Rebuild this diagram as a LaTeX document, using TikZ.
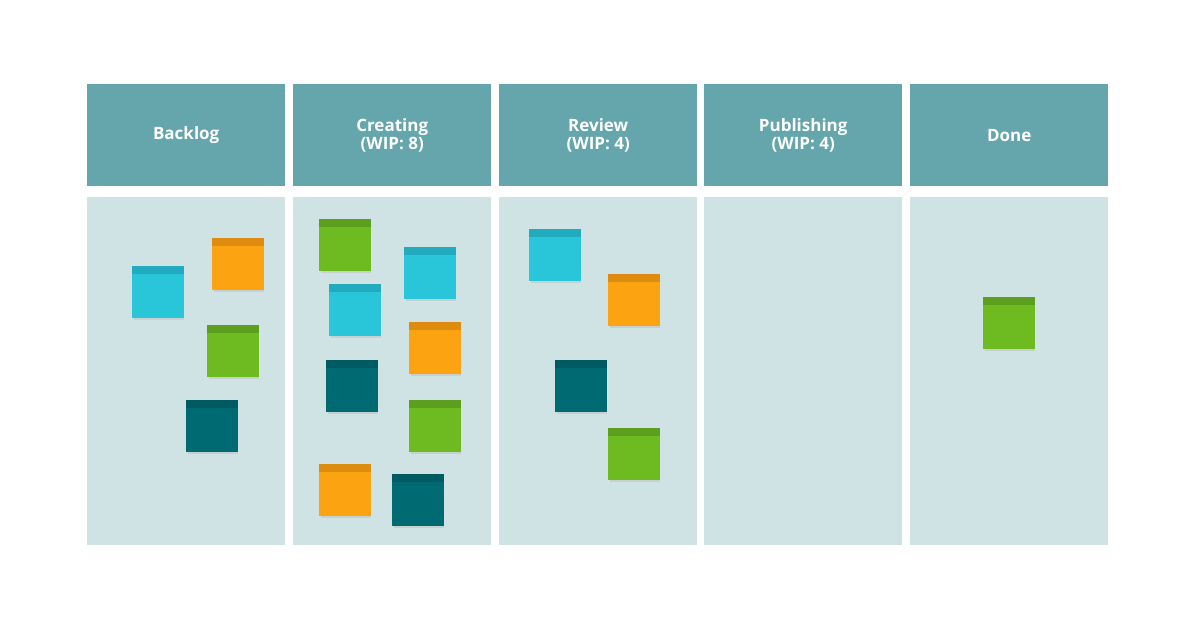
\documentclass[tikz,border=0pt]{standalone}
\usepackage{fontspec}
\setmainfont{Open Sans}
\definecolor{headcol}{HTML}{64A6AB}
\definecolor{bodycol}{HTML}{CFE3E4}
\definecolor{cyanN}{HTML}{29C5D9}\definecolor{cyanT}{HTML}{22ABBE}
\definecolor{orangeN}{HTML}{FCA311}\definecolor{orangeT}{HTML}{DD8C0F}
\definecolor{greenN}{HTML}{6DBB21}\definecolor{greenT}{HTML}{5C9E1E}
\definecolor{tealN}{HTML}{006A72}\definecolor{tealT}{HTML}{005A61}
\tikzset{
  header/.style={fill=headcol, minimum width=198pt, minimum height=102pt, inner sep=0pt,
    text=white, font=\bfseries\fontsize{17pt}{18pt}\selectfont, align=center, anchor=north west},
  lane/.style={fill=bodycol, minimum width=198pt, minimum height=348pt, inner sep=0pt, anchor=north west}
}
\newcommand{\sticky}[3]{% colour, x, y (top left)
  \fill[black!25, opacity=0.5] (#2+2,#3+51) rectangle (#2+52,#3+53.5);
  \fill[#1N] (#2,#3) rectangle (#2+52,#3+52);
  \fill[#1T] (#2,#3) rectangle (#2+52,#3+8);
}
\begin{document}
\begin{tikzpicture}[x=1pt,y=-1pt]
\useasboundingbox (0,0) rectangle (1200,630);
\fill[white] (0,0) rectangle (1200,630);

\node[header] (hBacklog) at (87,84) {Backlog};
\node[header] (hCreating) at (293,84) {Creating\\(WIP: 8)};
\node[header] (hReview) at (499,84) {Review\\(WIP: 4)};
\node[header] (hPublishing) at (704,84) {Publishing\\(WIP: 4)};
\node[header] (hDone) at (910,84) {Done};

\foreach \x/\name in {87/Backlog, 293/Creating, 499/Review, 704/Publishing, 910/Done}
  \node[lane] (l\name) at (\x,197) {};

% backlog
\sticky{cyan}{132}{266}
\sticky{orange}{212}{238}
\sticky{green}{207}{325}
\sticky{teal}{186}{400}
% creating
\sticky{green}{319}{219}
\sticky{cyan}{404}{247}
\sticky{cyan}{329}{284}
\sticky{orange}{409}{322}
\sticky{teal}{326}{360}
\sticky{green}{409}{400}
\sticky{orange}{319}{464}
\sticky{teal}{392}{474}
% review
\sticky{cyan}{529}{229}
\sticky{orange}{608}{274}
\sticky{teal}{555}{360}
\sticky{green}{608}{428}
% done
\sticky{green}{983}{297}
\end{tikzpicture}
\end{document}
